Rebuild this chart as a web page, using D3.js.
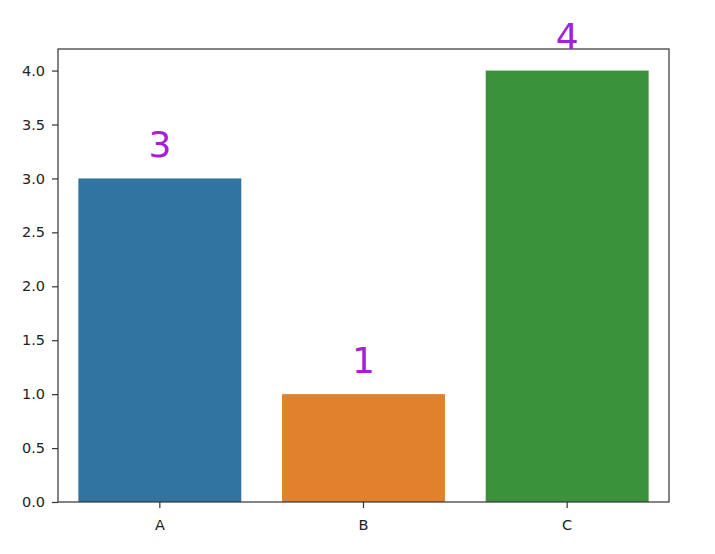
<!DOCTYPE html>
<html>
<head>
<meta charset="utf-8">
<script src="https://cdn.jsdelivr.net/npm/d3@7"></script>
<style>
  body { margin: 0; background: #fff; }
  .tick text { font-family: "DejaVu Sans", sans-serif; font-size: 14.5px; fill: #222; }
</style>
</head>
<body>
<div id="chart"></div>
<script>
// data
var categories = ["A", "B", "C"];
var values = [3, 1, 4];
var barColors = ["#3274a1", "#e1812c", "#3a923a"];
var yTicks = [0, 0.5, 1, 1.5, 2, 2.5, 3, 3.5, 4];

var svgWidth = 715, svgHeight = 554;
var margin = { top: 49, right: 46, bottom: 52, left: 58 };
var chartWidth = svgWidth - margin.left - margin.right;
var chartHeight = svgHeight - margin.top - margin.bottom;

var svg = d3.select("#chart").append("svg")
    .attr("width", svgWidth)
    .attr("height", svgHeight);

var chartGroup = svg.append("g")
    .attr("transform", `translate(${margin.left}, ${margin.top})`);

var xScale = d3.scaleBand()
    .domain(categories)
    .range([0, chartWidth])
    .paddingInner(0.2)
    .paddingOuter(0.1);

var yScale = d3.scaleLinear()
    .domain([0, 4.2])
    .range([chartHeight, 0]);

// bars
chartGroup.selectAll("rect.bar")
    .data(values)
    .enter().append("rect")
    .attr("class", "bar")
    .attr("x", (d, i) => xScale(categories[i]))
    .attr("y", d => yScale(d))
    .attr("width", xScale.bandwidth())
    .attr("height", d => chartHeight - yScale(d))
    .attr("fill", (d, i) => barColors[i]);

// axes
var yAxis = d3.axisLeft(yScale)
    .tickValues(yTicks)
    .tickFormat(d3.format(".1f"))
    .tickSize(6)
    .tickPadding(7);

var xAxis = d3.axisBottom(xScale)
    .tickSize(6)
    .tickPadding(8);

var yG = chartGroup.append("g").call(yAxis);
var xG = chartGroup.append("g")
    .attr("transform", `translate(0, ${chartHeight})`)
    .call(xAxis);

[yG, xG].forEach(g => {
    g.select(".domain").remove();
    g.selectAll(".tick line").attr("stroke", "#333").attr("stroke-width", 1.2);
});
xG.selectAll(".tick text").attr("dy", "0.95em");

// frame
chartGroup.append("rect")
    .attr("x", 0).attr("y", 0)
    .attr("width", chartWidth).attr("height", chartHeight)
    .attr("fill", "none")
    .attr("stroke", "#333")
    .attr("stroke-width", 1.2);

// value labels
chartGroup.selectAll("text.val")
    .data(values)
    .enter().append("text")
    .attr("class", "val")
    .attr("x", (d, i) => xScale(categories[i]) + xScale.bandwidth() / 2)
    .attr("y", d => yScale(d + 0.2))
    .attr("text-anchor", "middle")
    .attr("font-family", "DejaVu Sans, sans-serif")
    .attr("font-size", 36)
    .attr("fill", "#a41fd8")
    .text(d => d);
</script>
</body>
</html>
